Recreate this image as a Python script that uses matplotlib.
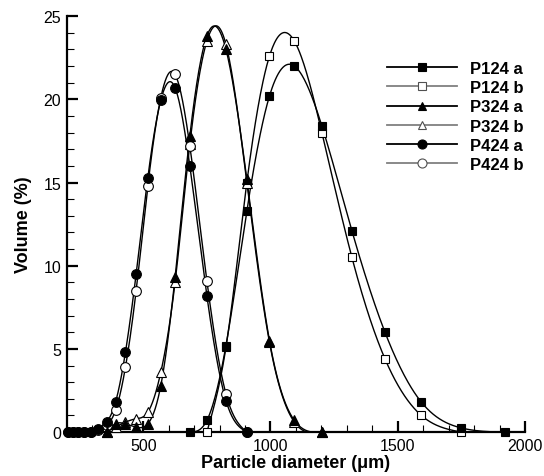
import numpy as np
import matplotlib
matplotlib.use("Agg")
import matplotlib.pyplot as plt
from matplotlib.lines import Line2D
from matplotlib.ticker import MultipleLocator

plt.rcParams['font.family'] = ['Liberation Sans', 'DejaVu Sans']

# Size classes (um)
diameter_um = [203, 223, 245, 269, 295, 324, 356, 391, 430, 472, 518, 569, 625,
               683, 750, 825, 907, 996, 1094, 1202, 1320, 1450, 1593, 1750, 1922]

# Volume fractions (%) per class, None where the series has no point
p124_a = [None] * 13 + [0.0, 0.7, 5.2, 13.3, 20.2, 22.0, 18.4, 12.1, 6.0, 1.8, 0.25, 0.0]
p124_b = [None] * 14 + [0.0, 5.1, 15.0, 22.6, 23.5, 18.0, 10.5, 4.4, 1.0, 0.0, None]
p324_a = [None] * 6 + [0.0, 0.5, 0.5, 0.3, 0.5, 2.8, 9.3, 17.8, 23.8, 23.0, 15.2, 5.5, 0.7, 0.0] + [None] * 5
p324_b = [None] * 6 + [0.0, 0.3, 0.6, 0.8, 1.2, 3.6, 9.0, 17.3, 23.5, 23.3, 15.0, 5.4, 0.6, 0.0] + [None] * 5
p424_a = [0.0, 0.0, 0.0, 0.0, 0.0, 0.2, 0.6, 1.8, 4.8, 9.5, 15.3, 19.95, 20.7, 16.0, 8.2, 1.9, 0.0] + [None] * 8
p424_b = [0.0, 0.0, 0.0, 0.0, 0.0, 0.1, 0.4, 1.3, 3.9, 8.5, 14.8, 20.1, 21.5, 17.2, 9.1, 2.3, 0.0] + [None] * 8

series_names = ["P124 a", "P124 b", "P324 a", "P324 b", "P424 a", "P424 b"]
series_values = [p124_a, p124_b, p324_a, p324_b, p424_a, p424_b]
series_markers = ["s", "s", "^", "^", "o", "o"]
series_filled = [True, False, True, False, True, False]


def natural_spline(x, y, n=400):
    x = np.asarray(x, float)
    y = np.asarray(y, float)
    k = len(x)
    h = np.diff(x)
    A = np.zeros((k, k))
    r = np.zeros(k)
    A[0, 0] = A[-1, -1] = 1.0
    for i in range(1, k - 1):
        A[i, i - 1] = h[i - 1]
        A[i, i] = 2 * (h[i - 1] + h[i])
        A[i, i + 1] = h[i]
        r[i] = 3 * ((y[i + 1] - y[i]) / h[i] - (y[i] - y[i - 1]) / h[i - 1])
    c = np.linalg.solve(A, r)
    b = (y[1:] - y[:-1]) / h - h * (2 * c[:-1] + c[1:]) / 3
    d = (c[1:] - c[:-1]) / (3 * h)
    xs = np.linspace(x[0], x[-1], n)
    idx = np.clip(np.searchsorted(x, xs) - 1, 0, k - 2)
    t = xs - x[idx]
    ys = y[idx] + b[idx] * t + c[idx] * t ** 2 + d[idx] * t ** 3
    return xs, ys


fig = plt.figure(figsize=(5.44, 4.77), dpi=100)
ax = fig.add_axes([0.123, 0.092, 0.842, 0.872])

for vals, mk, filled in zip(series_values, series_markers, series_filled):
    pts = [(d, v) for d, v in zip(diameter_um, vals) if v is not None]
    xd = [p[0] for p in pts]
    yd = [p[1] for p in pts]
    xs, ys = natural_spline(xd, yd)
    ax.plot(xs, ys, color="black", lw=1.0, zorder=2)
    ms = 7 if mk == "o" else (6 if mk == "s" else 6.5)
    # filled ("a") markers sit above the open ("b") ones
    ax.plot(xd, yd, linestyle="none", marker=mk, ms=ms,
            mfc="black" if filled else "white", mec="black", mew=0.8,
            zorder=4 if filled else 3, clip_on=False)

ax.set_xlim(200, 2000)
ax.set_ylim(0, 25)
ax.xaxis.set_major_locator(MultipleLocator(500))
ax.xaxis.set_minor_locator(MultipleLocator(100))
ax.yaxis.set_major_locator(MultipleLocator(5))
ax.yaxis.set_minor_locator(MultipleLocator(1))
ax.tick_params(which="major", direction="in", length=8, width=1.6, labelsize=11.5, pad=4)
ax.tick_params(which="minor", direction="in", length=5, width=0.8)
for s in ["top", "right"]:
    ax.spines[s].set_visible(False)
for s in ["left", "bottom"]:
    ax.spines[s].set_linewidth(1.6)

ax.set_xlabel("Particle diameter (\u03bcm)", fontsize=13, fontweight="bold", labelpad=1)
ax.set_ylabel("Volume (%)", fontsize=13, fontweight="bold", labelpad=8)

handles = []
for name, mk, filled in zip(series_names, series_markers, series_filled):
    col = "black" if filled else "#808080"
    ms = 6.5 if mk == "o" else 5.5
    handles.append(Line2D([0], [0], color=col, lw=1.3, marker=mk, ms=ms,
                          mfc="black" if filled else "white", mec="black" if filled else "#505050",
                          mew=0.8))
leg = ax.legend(handles, series_names, loc="upper left", bbox_to_anchor=(0.665, 0.928),
                frameon=False, handlelength=4.2, handletextpad=0.8, labelspacing=0.25,
                prop={"size": 12, "weight": "bold"})

fig.savefig("out.png", dpi=100)
